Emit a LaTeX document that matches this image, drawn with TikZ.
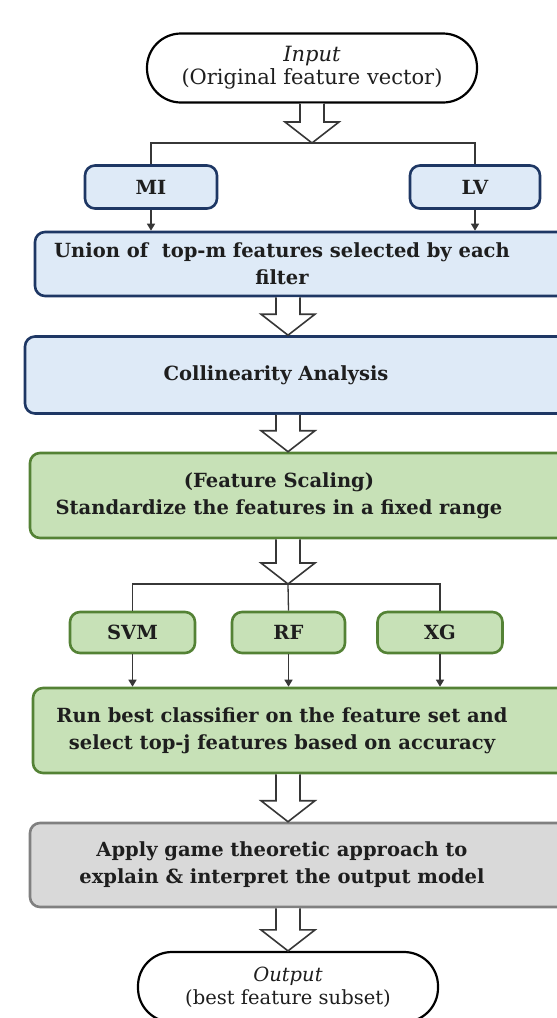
\documentclass[tikz,border=0pt]{standalone}
\usepackage{fontspec}
\setmainfont{DejaVu Serif}
\usetikzlibrary{arrows.meta,calc}

\definecolor{blueFill}{RGB}{222,234,247}
\definecolor{blueLine}{RGB}{30,55,100}
\definecolor{greenFill}{RGB}{199,225,183}
\definecolor{greenLine}{RGB}{84,130,53}
\definecolor{grayFill}{RGB}{217,217,217}
\definecolor{grayLine}{RGB}{128,128,128}
\definecolor{arrowCol}{RGB}{55,55,55}
\definecolor{textCol}{RGB}{30,30,30}

\tikzset{
  flowbox/.style={draw, rounded corners=10pt, line width=2.6pt},
  bluebox/.style={flowbox, draw=blueLine, fill=blueFill},
  greenbox/.style={flowbox, draw=greenLine, fill=greenFill},
  graybox/.style={flowbox, draw=grayLine, fill=grayFill},
  boxtext/.style={font=\bfseries\fontsize{19.5}{27}\selectfont, align=center, text=textCol},
  terminal/.style={draw=black, line width=2.2pt, rounded corners=34pt, fill=white,
    align=center, font=\fontsize{19.5}{23}\selectfont, text=textCol},
  link/.style={draw=arrowCol, line width=1.3pt},
  tip/.style={link, -{Triangle[length=7pt,width=8pt]}},
  hollow/.style={draw=arrowCol, line width=1.6pt, fill=white,
    to path={let \p1=(\tikztostart), \p2=(\tikztotarget) in
      (\x1-12pt,\y1) -- (\x1-12pt,\y2+21pt) -- (\x1-27pt,\y2+21pt) -- (\x1,\y2)
      -- (\x1+27pt,\y2+21pt) -- (\x1+12pt,\y2+21pt) -- (\x1+12pt,\y1)}}
}

\begin{document}
\begin{tikzpicture}[x=1pt,y=-1pt]
\useasboundingbox (0,0) rectangle (557,1018);
\clip (0,0) rectangle (557,1018);
\coordinate (axis) at (288,0);

% start
\node[terminal, minimum width=330pt, minimum height=69pt, font=\fontsize{21}{23}\selectfont] (input) at (312,68)
  {\textit{Input}\\(Original feature vector)};
\coordinate (split1) at (312,143);

% filters
\node[bluebox, minimum width=132pt, minimum height=43pt] (mi) at (151,187) {};
\node[boxtext] (mitxt) at (mi) {MI};
\node[bluebox, minimum width=130pt, minimum height=43pt] (lv) at (475,187) {};
\node[boxtext] (lvtxt) at (lv) {LV};

\node[bluebox, minimum width=540pt, minimum height=64pt] (union) at (305,264) {};
\node[boxtext] (uniontxt) at (282,264) {Union of\ \ top-m features selected by each\\filter};

\node[bluebox, minimum width=550pt, minimum height=77pt] (colli) at (300,375) {};
\node[boxtext] (collitxt) at (276,375) {Collinearity Analysis};

% scaling
\node[greenbox, minimum width=545pt, minimum height=85pt] (scale) at (302.5,495.5) {};
\node[boxtext] (scaletxt) at (279,496) {(Feature Scaling)\\Standardize the features in a fixed range};
\coordinate (split2) at (288,584);

% classifiers
\node[greenbox, minimum width=125pt, minimum height=41pt] (svm) at (132.5,632.5) {};
\node[boxtext] (svmtxt) at (svm) {SVM};
\node[greenbox, minimum width=113pt, minimum height=41pt] (rf) at (288.5,632.5) {};
\node[boxtext] (rftxt) at (rf) {RF};
\node[greenbox, minimum width=125pt, minimum height=41pt] (xg) at (440,632.5) {};
\node[boxtext] (xgtxt) at (xg) {XG};

\node[greenbox, minimum width=542pt, minimum height=85pt] (run) at (304,730.5) {};
\node[boxtext] (runtxt) at (282,731) {Run best classifier on the feature set and\\select top-j features based on accuracy};

% explain
\node[graybox, minimum width=545pt, minimum height=84pt] (apply) at (302.5,865) {};
\node[boxtext] (applytxt) at (282,865) {Apply game theoretic approach to\\explain \& interpret the output model};

\node[terminal, minimum width=300pt, minimum height=70pt] (output) at (288,987)
  {\textit{Output}\\(best feature subset)};

% connectors
\draw[hollow] (input.south) to (split1);
\draw[link] (mi.north) |- (split1) -| (lv.north);
\draw[tip] (mi.south) -- (mi.south |- union.north);
\draw[tip] (lv.south) -- (lv.south |- union.north);
\draw[hollow] (union.south -| axis) to (colli.north -| axis);
\draw[hollow] (colli.south -| axis) to (scale.north -| axis);
\draw[hollow] (scale.south -| axis) to (split2);
\draw[link] (svm.north) |- (split2) -| (xg.north);
\draw[link] (split2) -- (rf.north);
\draw[tip] (svm.south) -- (svm.south |- run.north);
\draw[tip] (rf.south) -- (rf.south |- run.north);
\draw[tip] (xg.south) -- (xg.south |- run.north);
\draw[hollow] (run.south -| axis) to (apply.north -| axis);
\draw[hollow] (apply.south -| axis) to (output.north);
\end{tikzpicture}
\end{document}
